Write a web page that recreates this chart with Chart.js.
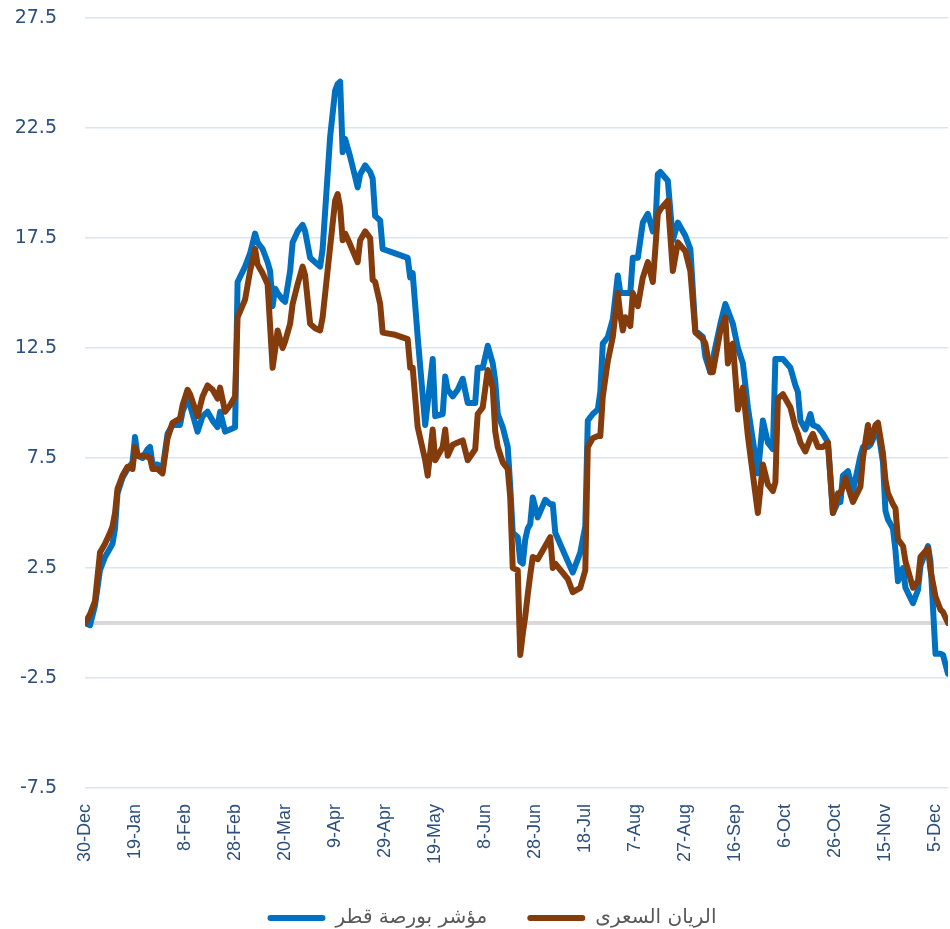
<!DOCTYPE html>
<html>
<head>
<meta charset="utf-8">
<script src="https://cdn.jsdelivr.net/npm/chart.js@4/dist/chart.umd.min.js"></script>
<style>
  html, body { margin: 0; padding: 0; background: #ffffff; }
  #wrap { width: 950px; height: 929px; }
</style>
</head>
<body>
<div id="wrap"><canvas id="c" width="950" height="929"></canvas></div>
<script>
// Days since 30-Dec (category positions on the date axis)
const days = [0,2,4,6,8,10,11,12,13,15,17,19,20,21,23,25,26,27,29,31,33,35,38,39,41,42,45,47,49,51,53,54,56,58,60,61,64,66,68,69,71,73,74,75,76,77,79,80,82,83,85,87,88,90,92,94,95,98,100,101,102,103,104,106,109,110,112,114,115,116,118,119,124,129,130,131,133,136,137,139,140,143,144,145,147,149,151,153,156,157,159,161,163,164,165,167,169,170,171,173,174,175,176,177,178,179,181,184,186,187,188,193,195,198,200,201,203,205,206,207,209,211,213,214,215,216,218,219,221,223,225,227,228,229,230,233,235,237,240,242,244,247,248,250,251,254,256,257,258,259,261,263,265,269,271,273,275,276,277,279,282,284,285,286,288,290,291,293,295,297,299,301,302,303,304,305,307,310,311,313,314,316,317,319,320,321,323,324,325,327,328,331,333,334,337,338,340,342,343,345];

// مؤشر بورصة قطر (blue)
const qeIndex = [0.0,-0.1,0.8,2.4,3.0,3.4,3.6,4.3,5.9,6.6,7.0,7.3,8.45,7.6,7.5,7.9,8.0,7.2,7.2,7.0,8.6,9.0,9.0,9.6,10.2,9.9,8.7,9.4,9.6,9.2,8.9,9.6,8.7,8.8,8.9,15.5,16.2,16.8,17.7,17.3,17.0,16.4,16.0,14.4,15.2,15.0,14.7,14.6,16.0,17.3,17.8,18.1,17.8,16.6,16.4,16.2,17.0,22.1,24.2,24.5,24.6,21.4,22.0,21.2,19.8,20.4,20.8,20.5,20.2,18.5,18.3,17.0,16.8,16.6,15.7,15.9,13.0,9.0,10.0,12.0,9.4,9.5,11.2,10.6,10.3,10.6,11.1,10.0,10.0,11.6,11.6,12.6,11.8,11.0,9.5,8.9,8.0,6.2,4.1,3.9,2.8,2.7,3.8,4.3,4.5,5.7,4.8,5.6,5.4,5.4,4.1,2.8,2.3,3.2,4.4,9.2,9.5,9.7,10.5,12.7,13.0,13.8,15.8,15.0,15.0,15.0,15.0,16.6,16.6,18.2,18.6,17.8,18.0,20.4,20.5,20.1,17.4,18.2,17.6,17.0,13.3,13.0,12.1,11.4,12.0,13.6,14.5,14.2,13.9,13.6,12.5,11.8,9.8,6.8,9.2,8.2,7.9,12.0,12.0,12.0,11.6,10.8,10.5,9.2,8.8,9.5,9.0,8.9,8.6,8.2,5.0,5.5,5.5,6.7,6.8,6.9,6.0,7.6,8.0,8.0,8.1,8.6,8.8,7.3,5.1,4.7,4.3,3.3,1.9,2.5,1.6,0.9,1.5,2.6,3.5,2.8,-1.4,-1.4,-1.45,-2.3];

// الريان السعرى (brown)
const rayan = [0.0,0.4,1.0,3.2,3.6,4.1,4.4,5.0,6.1,6.7,7.1,7.0,8.0,7.6,7.6,7.55,7.5,7.0,7.0,6.8,8.4,9.1,9.3,9.9,10.6,10.4,9.4,10.3,10.8,10.6,10.2,10.7,9.6,9.9,10.3,13.9,14.7,16.0,17.0,16.3,15.9,15.4,13.5,11.6,12.4,13.3,12.5,12.8,13.6,14.5,15.4,16.2,15.8,13.6,13.4,13.3,13.9,17.1,19.2,19.5,18.9,17.4,17.7,17.2,16.4,17.4,17.8,17.5,15.6,15.5,14.5,13.2,13.1,12.9,11.6,11.6,8.9,7.4,6.7,8.8,7.4,8.0,8.8,7.6,8.1,8.2,8.3,7.4,7.9,9.5,9.8,11.5,10.7,8.7,8.0,7.3,7.0,5.7,2.5,2.4,-1.45,-0.5,0.3,1.3,2.2,3.0,2.9,3.5,3.9,2.5,2.7,2.0,1.4,1.6,2.4,8.0,8.4,8.5,8.5,10.3,11.9,13.0,15.0,14.0,13.3,13.9,13.5,15.0,14.4,15.7,16.4,15.5,17.0,18.6,18.8,19.2,16.0,17.3,16.9,16.0,13.2,12.9,12.7,11.4,11.4,13.3,13.9,11.8,12.5,12.7,9.7,10.7,8.5,5.0,7.2,6.3,6.0,6.4,10.2,10.4,9.8,8.9,8.6,8.2,7.8,8.4,8.6,8.0,8.0,8.2,5.0,5.9,5.9,6.2,6.6,6.2,5.5,6.2,7.5,9.0,8.2,9.0,9.1,7.7,6.5,5.9,5.4,5.2,3.8,3.5,2.8,1.6,1.9,3.0,3.4,2.4,1.2,0.6,0.5,0.0];

// X tick labels (every 20 days from 30-Dec)
const tickLabels = ['30-Dec','19-Jan','8-Feb','28-Feb','20-Mar','9-Apr','29-Apr','19-May','8-Jun','28-Jun','18-Jul','7-Aug','27-Aug','16-Sep','6-Oct','26-Oct','15-Nov','5-Dec'];
const seriesNames = ['مؤشر بورصة قطر', 'الريان السعرى'];

const AXIS_COLOR = '#2C4F7C';
const BLUE = '#0070C0';
const BROWN = '#843C0C';

const toPts = (vals) => days.map((d, i) => ({ x: d, y: vals[i] }));

const legendShift = {
  id: 'legendShift',
  afterLayout(chart) {
    const lg = chart.legend;
    if (!lg) return;
    const dy = 918 - (lg.top + lg.options.labels.padding + lg.options.labels.font.size / 2);
    lg.top += dy;
    lg.bottom = chart.height;
    lg.height = lg.bottom - lg.top;
    lg.left += 18; lg.right += 18;
  }
};

new Chart(document.getElementById('c'), {
  type: 'line',
  data: {
    datasets: [
      { label: seriesNames[0], data: toPts(qeIndex), borderColor: BLUE, backgroundColor: BLUE,
        borderWidth: 6, pointRadius: 0, tension: 0, borderJoinStyle: 'round', borderCapStyle: 'round', order: 2 },
      { label: seriesNames[1], data: toPts(rayan), borderColor: BROWN, backgroundColor: BROWN,
        borderWidth: 6, pointRadius: 0, tension: 0, borderJoinStyle: 'round', borderCapStyle: 'round', order: 1 }
    ]
  },
  options: {
    responsive: false,
    animation: false,
    layout: { padding: { top: 18, right: 2, left: 0, bottom: 0 } },
    plugins: {
      tooltip: { enabled: false },
      legend: {
        position: 'bottom',
        maxHeight: 36,
        labels: {
          padding: 40,
          boxWidth: 58,
          boxHeight: 6,
          useBorderRadius: true,
          borderRadius: 3,
          color: '#595959',
          font: { family: 'DejaVu Sans', size: 20 },
          sort: (a, b) => a.datasetIndex - b.datasetIndex,
          generateLabels: (chart) => Chart.defaults.plugins.legend.labels.generateLabels(chart)
            .map(l => Object.assign(l, { lineWidth: 0, fillStyle: l.strokeStyle }))
        }
      }
    },
    scales: {
      x: {
        type: 'linear',
        min: 0,
        max: days[days.length - 1],
        grid: { display: false },
        border: { display: false },
        afterFit: (s) => { s.height = 929 - 36 - 788; s.paddingLeft = 0; s.paddingRight = 0; },
        ticks: {
          stepSize: 20,
          autoSkip: false,
          includeBounds: false,
          minRotation: 90,
          maxRotation: 90,
          padding: 8,
          color: AXIS_COLOR,
          font: { family: 'Liberation Sans', size: 18 },
          callback: (v) => (v % 20 === 0 ? (tickLabels[v / 20] || '') : '')
        }
      },
      y: {
        min: -7.5,
        max: 27.5,
        afterFit: (s) => { s.width = 85; s.paddingTop = 0; s.paddingBottom = 0; },
        afterBuildTicks: (s) => {
          s.ticks.push({ value: 0 });
          s.ticks.sort((a, b) => a.value - b.value);
        },
        border: { display: false },
        grid: {
          drawTicks: false,
          color: (ctx) => (ctx.tick && ctx.tick.value === 0 ? '#D9D9D9' : '#DCE4F2'),
          lineWidth: (ctx) => (ctx.tick && ctx.tick.value === 0 ? 4 : 1.5)
        },
        ticks: {
          stepSize: 5,
          padding: 28,
          color: AXIS_COLOR,
          font: { family: 'DejaVu Sans', size: 19 },
          callback: (v) => (v === 0 ? '' : Number(v).toFixed(1))
        }
      }
    }
  },
  plugins: [legendShift]
});
</script>
</body>
</html>
